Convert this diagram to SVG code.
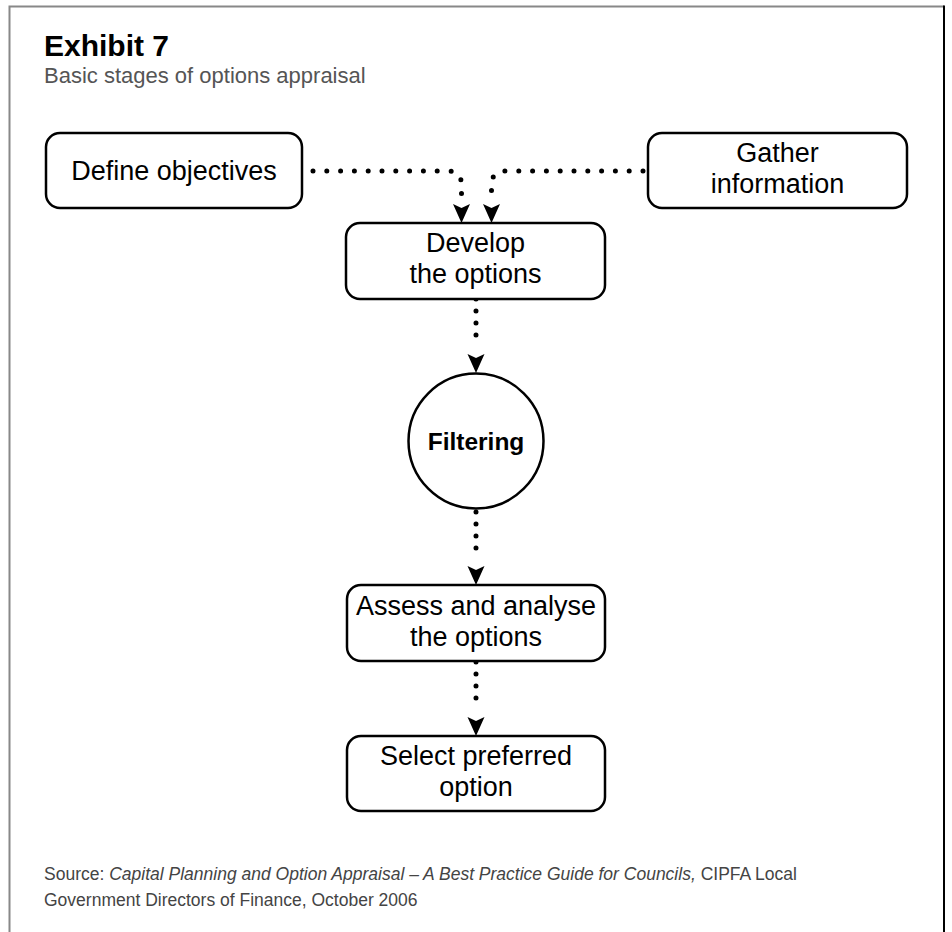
<svg xmlns="http://www.w3.org/2000/svg" width="952" height="932" viewBox="0 0 952 932">
<defs>
<style>
.box{fill:#fff;stroke:#000;stroke-width:2.5}
.t{font-family:"Liberation Sans",Arial,sans-serif;font-size:27px;fill:#000;text-anchor:middle}
.c{fill:none;stroke:#000;stroke-width:5;stroke-linecap:round}
.h{stroke-dasharray:0 13.8}
.v{stroke-dasharray:0 12}
.ah{fill:#000}
.src{font-family:"Liberation Sans",Arial,sans-serif;font-size:17.5px;fill:#444}
</style>
</defs>
<rect width="952" height="932" fill="#fff"/>
<path d="M9.5,932 V6.5 H944" fill="none" stroke="#888" stroke-width="2"/>
<path d="M944,5.5 V932" fill="none" stroke="#000" stroke-width="2"/>
<text x="44" y="56" font-family="'Liberation Sans',Arial,sans-serif" font-size="30" font-weight="bold" fill="#000">Exhibit 7</text>
<text x="44" y="83" font-family="'Liberation Sans',Arial,sans-serif" font-size="22" fill="#555">Basic stages of options appraisal</text>

<g id="connectors">
<path class="c h" d="M313,171 H447 Q461.5,171 461.5,185 V199"/>
<path class="ah" d="M453,204 L461.5,223 L470,204 L461.5,208 Z"/>
<path class="c h" d="M643,171 H506 Q491.5,171 491.5,185 V199"/>
<path class="ah" d="M483,204 L491.5,223 L500,204 L491.5,208 Z"/>
<path class="c v" d="M476,299 V347"/>
<path class="ah" d="M467.5,354 L476,373 L484.5,354 L476,358 Z"/>
<path class="c v" d="M476,512 V560"/>
<path class="ah" d="M467.5,566 L476,585 L484.5,566 L476,570 Z"/>
<path class="c v" d="M476,662 V710"/>
<path class="ah" d="M467.5,717 L476,736 L484.5,717 L476,721 Z"/>
</g>

<g id="define">
<rect class="box" x="46" y="133" width="256" height="75" rx="14"/>
<text class="t" x="174" y="180">Define objectives</text>
</g>
<g id="gather">
<rect class="box" x="648" y="133" width="259" height="75" rx="14"/>
<text class="t" x="777.5" y="162">Gather</text>
<text class="t" x="777.5" y="193">information</text>
</g>
<g id="develop">
<rect class="box" x="346" y="223" width="259" height="76" rx="14"/>
<text class="t" x="475.5" y="252">Develop</text>
<text class="t" x="475.5" y="283">the options</text>
</g>
<g id="filtering">
<circle class="box" cx="476" cy="441" r="67.5"/>
<text x="476" y="450" font-family="'Liberation Sans',Arial,sans-serif" font-size="24.5" font-weight="bold" text-anchor="middle">Filtering</text>
</g>
<g id="assess">
<rect class="box" x="347" y="585" width="258" height="76" rx="14"/>
<text class="t" x="476" y="615" font-size="26.5">Assess and analyse</text>
<text class="t" x="476" y="646">the options</text>
</g>
<g id="select">
<rect class="box" x="347" y="736" width="258" height="75" rx="14"/>
<text class="t" x="476" y="765">Select preferred</text>
<text class="t" x="476" y="796">option</text>
</g>

<text class="src" x="44" y="880">Source: <tspan font-style="italic">Capital Planning and Option Appraisal – A Best Practice Guide for Councils,</tspan> CIPFA Local</text>
<text class="src" x="44" y="906">Government Directors of Finance, October 2006</text>
</svg>
